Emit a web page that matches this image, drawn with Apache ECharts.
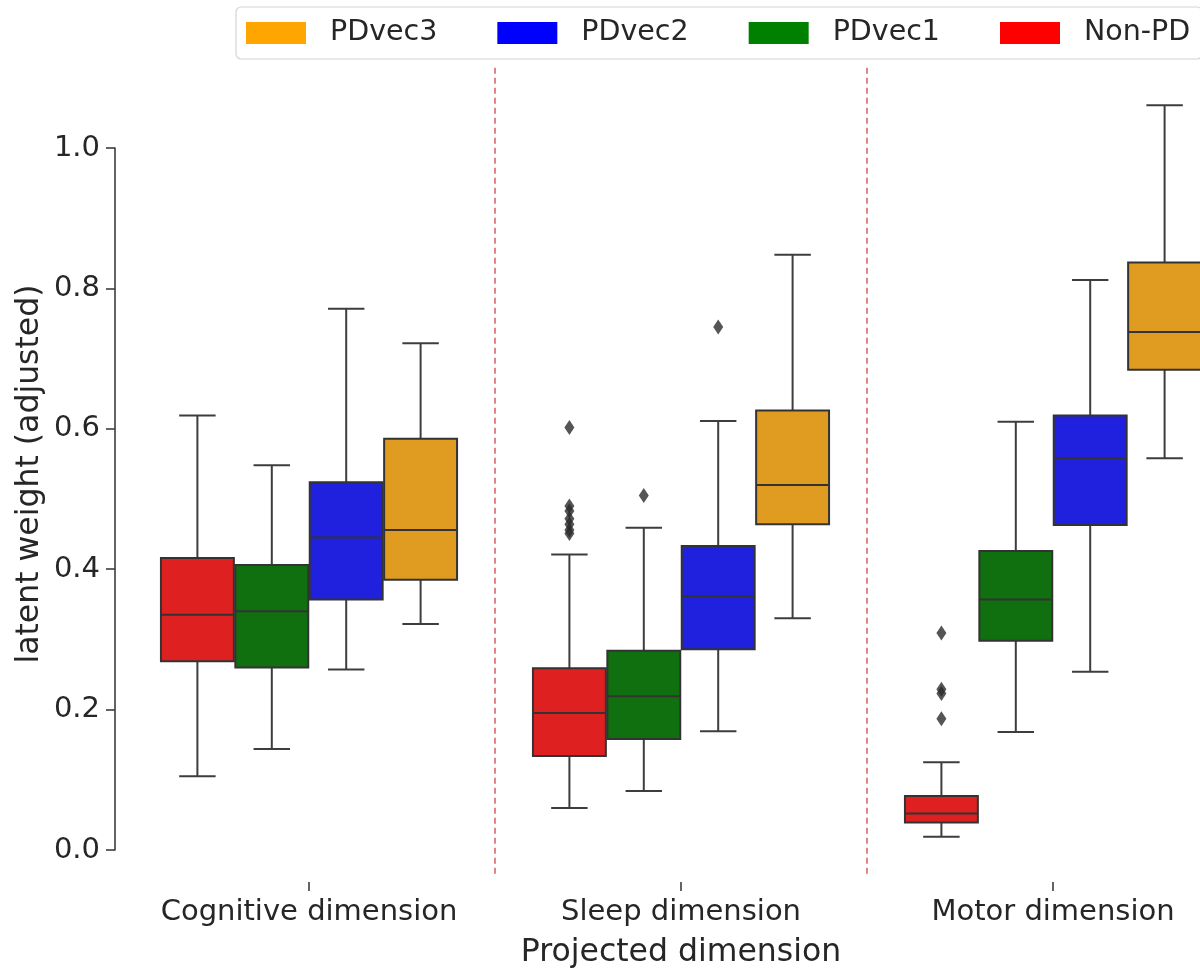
<!DOCTYPE html>
<html>
<head>
<meta charset="utf-8">
<script src="https://cdn.jsdelivr.net/npm/echarts@6/dist/echarts.min.js"></script>
<style>
  html, body { margin: 0; padding: 0; background: #ffffff; overflow: hidden; }
  #chart { width: 1239px; height: 974px; }
</style>
</head>
<body>
<div id="chart"></div>
<script>
// ---------------- data ----------------
const categories = ['Cognitive dimension', 'Sleep dimension', 'Motor dimension'];
const hueNames = ['Non-PD', 'PDvec1', 'PDvec2', 'PDvec3'];
const legendOrder = ['PDvec3', 'PDvec2', 'PDvec1', 'Non-PD'];
const boxColors = ['#df2020', '#107010', '#2020df', '#df9c20'];
const legendColors = ['#ff0000', '#008000', '#0000ff', '#ffa500'];

// [whisker low, Q1, median, Q3, whisker high] per category
const nonPD  = [[0.105, 0.269, 0.335, 0.416, 0.619],
                [0.060, 0.134, 0.195, 0.259, 0.421],
                [0.019, 0.039, 0.052, 0.077, 0.125]];
const pdvec1 = [[0.144, 0.260, 0.340, 0.406, 0.548],
                [0.084, 0.158, 0.219, 0.284, 0.459],
                [0.168, 0.298, 0.357, 0.426, 0.610]];
const pdvec2 = [[0.257, 0.357, 0.445, 0.524, 0.771],
                [0.169, 0.286, 0.362, 0.433, 0.611],
                [0.254, 0.463, 0.558, 0.619, 0.812]];
const pdvec3 = [[0.322, 0.385, 0.456, 0.586, 0.722],
                [0.330, 0.464, 0.520, 0.626, 0.848],
                [0.558, 0.684, 0.738, 0.837, 1.061]];

// outliers: [category index, value]
const nonPDOutliers  = [[1, 0.602], [1, 0.490], [1, 0.483], [1, 0.472], [1, 0.464], [1, 0.456], [1, 0.451],
                        [2, 0.309], [2, 0.229], [2, 0.223], [2, 0.187]];
const pdvec1Outliers = [[1, 0.505]];
const pdvec2Outliers = [[1, 0.745]];
const pdvec3Outliers = [];

const yTicks = [0.0, 0.2, 0.4, 0.6, 0.8, 1.0];
const separators = [0.5, 1.5];
const separatorExtent = [-0.034, 1.115];

// ---------------- styling / layout ----------------
const FONT = 'DejaVu Sans';
const TEXT = '#262626';
const EDGE = '#3d3d3d';
const HUE_STEP = 0.2;
const BOX_HALF = 0.098;
const CAP_HALF = 0.049;

const allStats = [nonPD, pdvec1, pdvec2, pdvec3];
const allOutliers = [nonPDOutliers, pdvec1Outliers, pdvec2Outliers, pdvec3Outliers];

function hueX(cat, h) { return cat + (h - (hueNames.length - 1) / 2) * HUE_STEP; }

function makeRender(h) {
  return function (params, api) {
    const cat = api.value(0);
    const lo = api.value(1), q1 = api.value(2), med = api.value(3), q3 = api.value(4), hi = api.value(5);
    const x = hueX(cat, h);
    const pLo = api.coord([x, lo]), pQ1 = api.coord([x, q1]), pMed = api.coord([x, med]);
    const pQ3 = api.coord([x, q3]), pHi = api.coord([x, hi]);
    const xl = api.coord([x - BOX_HALF, med])[0], xr = api.coord([x + BOX_HALF, med])[0];
    const cl = api.coord([x - CAP_HALF, med])[0], cr = api.coord([x + CAP_HALF, med])[0];
    const ls = { stroke: EDGE, lineWidth: 2 };
    return {
      type: 'group',
      children: [
        { type: 'line', shape: { x1: pHi[0], y1: pHi[1], x2: pQ3[0], y2: pQ3[1] }, style: ls },
        { type: 'line', shape: { x1: pLo[0], y1: pLo[1], x2: pQ1[0], y2: pQ1[1] }, style: ls },
        { type: 'line', shape: { x1: cl, y1: pHi[1], x2: cr, y2: pHi[1] }, style: ls },
        { type: 'line', shape: { x1: cl, y1: pLo[1], x2: cr, y2: pLo[1] }, style: ls },
        { type: 'rect', shape: { x: xl, y: pQ3[1], width: xr - xl, height: pQ1[1] - pQ3[1] },
          style: { fill: boxColors[h], stroke: '#333333', lineWidth: 2 } },
        { type: 'line', shape: { x1: xl, y1: pMed[1], x2: xr, y2: pMed[1] }, style: { stroke: '#333333', lineWidth: 2 } }
      ]
    };
  };
}

const series = [];
hueNames.forEach((name, h) => {
  series.push({
    name: name,
    type: 'custom',
    xAxisIndex: 1,
    yAxisIndex: 0,
    clip: false,
    silent: true,
    itemStyle: { color: boxColors[h] },
    renderItem: makeRender(h),
    encode: { x: 0, y: [1, 2, 3, 4, 5] },
    data: allStats[h].map((d, i) => [i].concat(d)),
    z: 3
  });
});
series.push({
  name: 'outliers',
  type: 'scatter',
  xAxisIndex: 1,
  yAxisIndex: 0,
  silent: true,
  symbol: 'diamond',
  symbolSize: [10, 15],
  itemStyle: { color: '#2a2a2a' },
  data: allOutliers.flatMap((arr, h) => arr.map(o => [hueX(o[0], h), o[1]])),
  z: 4
});
separators.forEach((s, i) => {
  series.push({
    name: 'sep' + i,
    type: 'line',
    xAxisIndex: 1,
    yAxisIndex: 0,
    clip: false,
    silent: true,
    symbol: 'none',
    lineStyle: { color: '#d9676a', width: 1.6, type: [6, 4] },
    data: separatorExtent.map(v => [s, v]),
    z: 1
  });
});

const option = {
  animation: false,
  backgroundColor: '#ffffff',
  textStyle: { fontFamily: FONT },
  grid: [
    { left: 123, top: 148, width: 1116, bottom: 116, containLabel: false },
    { left: 123, top: 66, width: 1116, bottom: 92, containLabel: false }
  ],
  legend: {
    left: 236,
    top: 7,
    orient: 'horizontal',
    selectedMode: false,
    icon: 'rect',
    itemWidth: 60,
    itemHeight: 22,
    itemGap: 60,
    padding: [9, 12, 9, 10],
    borderColor: '#d4d4d4',
    borderWidth: 1.2,
    borderRadius: 5,
    backgroundColor: '#ffffff',
    textStyle: { fontFamily: FONT, fontSize: 28.5, color: TEXT, padding: [0, 0, 0, 19], lineHeight: 34 },
    data: legendOrder.map(n => ({ name: n, itemStyle: { color: legendColors[hueNames.indexOf(n)] } }))
  },
  xAxis: [
    {
      type: 'category',
      data: categories,
      gridIndex: 0,
      position: 'bottom',
      offset: 32,
      boundaryGap: true,
      axisLine: { show: false, onZero: false },
      axisTick: { show: true, alignWithLabel: true, length: 9, lineStyle: { color: EDGE, width: 1.6 } },
      axisLabel: { fontFamily: FONT, fontSize: 29, color: TEXT, margin: 16, interval: 0 },
      splitLine: { show: false },
      name: 'Projected dimension',
      nameLocation: 'middle',
      nameGap: 55,
      nameTextStyle: { fontFamily: FONT, fontSize: 31.5, color: TEXT }
    },
    {
      type: 'value',
      gridIndex: 0,
      min: -0.5,
      max: categories.length - 0.5,
      show: false
    },
    {
      type: 'value',
      gridIndex: 1,
      min: -0.5,
      max: categories.length - 0.5,
      show: false
    }
  ],
  yAxis: [
    {
      type: 'value',
      gridIndex: 0,
      min: yTicks[0],
      max: yTicks[yTicks.length - 1],
      interval: yTicks[1] - yTicks[0],
      offset: 8,
      axisLine: { show: true, onZero: false, lineStyle: { color: EDGE, width: 1.6 } },
      axisTick: { show: true, length: 9, lineStyle: { color: EDGE, width: 1.6 } },
      axisLabel: { fontFamily: FONT, fontSize: 29, color: TEXT, margin: 15, formatter: v => v.toFixed(1) },
      splitLine: { show: false }
    },
    {
      type: 'value',
      gridIndex: 1,
      min: separatorExtent[0],
      max: separatorExtent[1],
      offset: 8,
      axisLine: { show: false, onZero: false },
      axisTick: { show: false },
      axisLabel: { show: false },
      splitLine: { show: false },
      name: 'latent weight (adjusted)',
      nameLocation: 'middle',
      nameGap: 69,
      nameTextStyle: { fontFamily: FONT, fontSize: 31.5, color: TEXT }
    }
  ],
  series: series
};

const chart = echarts.init(document.getElementById('chart'), null, { renderer: 'canvas' });
chart.setOption(option);
</script>
</body>
</html>
